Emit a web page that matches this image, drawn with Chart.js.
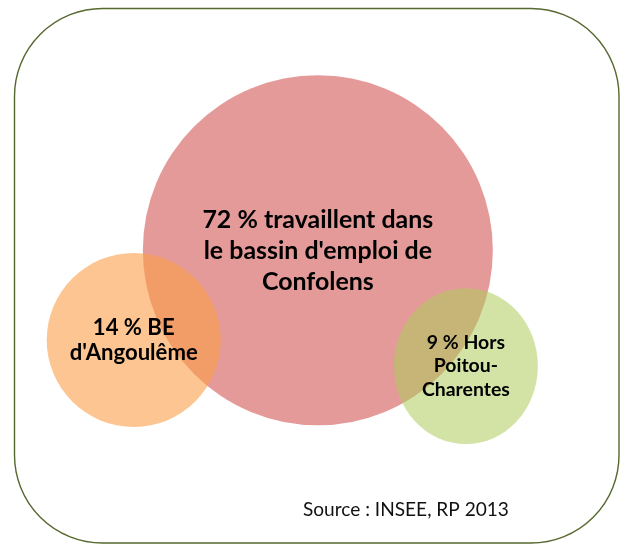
<!DOCTYPE html>
<html>
<head>
<meta charset="utf-8">
<script src="https://cdn.jsdelivr.net/npm/chart.js@4/dist/chart.umd.min.js"></script>
<style>
  html, body { margin: 0; padding: 0; background: #ffffff; }
  #wrap { width: 622px; height: 544px; position: relative; }
</style>
</head>
<body>
<div id="wrap"><canvas id="c" width="622" height="544"></canvas></div>
<script>
// ---- data ----
const categories = ["bassin d'emploi de Confolens", "BE d'Angoulême", "Hors Poitou-Charentes"];
const shares = [72, 14, 9];               // % of workers
const labelLines = [
  ["72 % travaillent dans", "le bassin d'emploi de", "Confolens"],
  ["14 % BE", "d'Angoulême"],
  ["9 % Hors", "Poitou-", "Charentes"]
];
const posX = [51.1, 21.5, 74.9];          // layout position on a 0-100 grid
const posY = [54.0, 37.5, 32.7];
const radii = [175, 87, 72];              // bubble radius (px)
const sourceText = "Source : INSEE, RP 2013";

// ---- styles ----
const gradTop = ["rgba(212,87,87,0.6)", "rgba(250,158,72,0.6)", "rgba(173,204,91,0.55)"];
const gradBot = ["rgba(175,77,77,0.6)", "rgba(218,137,68,0.6)", "rgba(140,164,73,0.55)"];
const drawOrder = [2, 1, 0];              // red at the back
const fontFamily = "Lato, 'Open Sans', sans-serif";
const textStyle = [
  { width: 231, lh: 31, dy: 1 },
  { width: 128, lh: 25, dy: 0 },
  { width: 88, lh: 23.5, dy: 0 }
];
const yStretch = [1, 1, 1.083];

function gradientFor(i) {
  return function (ctx) {
    const chart = ctx.chart;
    const el = ctx.element;
    if (!el || el.y === undefined) return gradTop[i];
    const r = radii[i];
    const g = chart.ctx.createLinearGradient(0, el.y - r, 0, el.y + r);
    g.addColorStop(0, gradTop[i]);
    g.addColorStop(1, gradBot[i]);
    return g;
  };
}

const datasets = categories.map((name, i) => ({
  label: name,
  data: [{ x: posX[i], y: posY[i], r: radii[i], v: shares[i] }],
  backgroundColor: gradientFor(i),
  borderWidth: 0,
  hoverBorderWidth: 0,
  order: drawOrder[i],
  clip: false
}));

const framePlugin = {
  id: 'frame',
  beforeDraw(chart) {
    const c = chart.ctx;
    c.save();
    c.fillStyle = '#ffffff';
    c.fillRect(0, 0, chart.width, chart.height);
    const x0 = 14.5, y0 = 8.5, x1 = 619, y1 = 543, rad = 88;
    c.beginPath();
    c.moveTo(x0 + rad, y0);
    c.lineTo(x1 - rad, y0);
    c.arcTo(x1, y0, x1, y0 + rad, rad);
    c.lineTo(x1, y1 - rad);
    c.arcTo(x1, y1, x1 - rad, y1, rad);
    c.lineTo(x0 + rad, y1);
    c.arcTo(x0, y1, x0, y1 - rad, rad);
    c.lineTo(x0, y0 + rad);
    c.arcTo(x0, y0, x0 + rad, y0, rad);
    c.closePath();
    c.strokeStyle = '#56692e';
    c.lineWidth = 1.4;
    c.stroke();
    c.restore();
  },
  beforeDatasetDraw(chart, args) {
    const i = args.index;
    const el = chart.getDatasetMeta(i).data[0];
    chart.ctx.save();
    if (yStretch[i] !== 1) {
      chart.ctx.translate(0, el.y);
      chart.ctx.scale(1, yStretch[i]);
      chart.ctx.translate(0, -el.y);
    }
  },
  afterDatasetDraw(chart) {
    chart.ctx.restore();
  },
  afterDatasetsDraw(chart) {
    const c = chart.ctx;
    c.save();
    c.fillStyle = '#000000';
    c.textAlign = 'center';
    c.textBaseline = 'middle';
    labelLines.forEach((lines, i) => {
      const el = chart.getDatasetMeta(i).data[0];
      const st = textStyle[i];
      c.font = 'bold 20px ' + fontFamily;
      let w = 0;
      lines.forEach(l => { w = Math.max(w, c.measureText(l).width); });
      const size = 20 * st.width / w;
      c.font = 'bold ' + size.toFixed(2) + 'px ' + fontFamily;
      const n = lines.length;
      lines.forEach((l, k) => {
        c.fillText(l, el.x, el.y + st.dy + (k - (n - 1) / 2) * st.lh);
      });
    });
    // source
    c.font = '17px ' + fontFamily;
    const sw = c.measureText(sourceText).width;
    const ss = 17 * 206 / sw;
    c.font = ss.toFixed(2) + 'px ' + fontFamily;
    c.textAlign = 'left';
    c.fillStyle = '#111111';
    c.fillText(sourceText, 303, 510);
    c.restore();
  }
};

new Chart(document.getElementById('c'), {
  type: 'bubble',
  data: { datasets },
  options: {
    responsive: false,
    animation: false,
    events: [],
    layout: { padding: 0, autoPadding: false },
    plugins: { legend: { display: false }, tooltip: { enabled: false } },
    scales: {
      x: { type: 'linear', min: 0, max: 100, display: false },
      y: { type: 'linear', min: 0, max: 100, display: false }
    }
  },
  plugins: [framePlugin]
});
</script>
</body>
</html>
